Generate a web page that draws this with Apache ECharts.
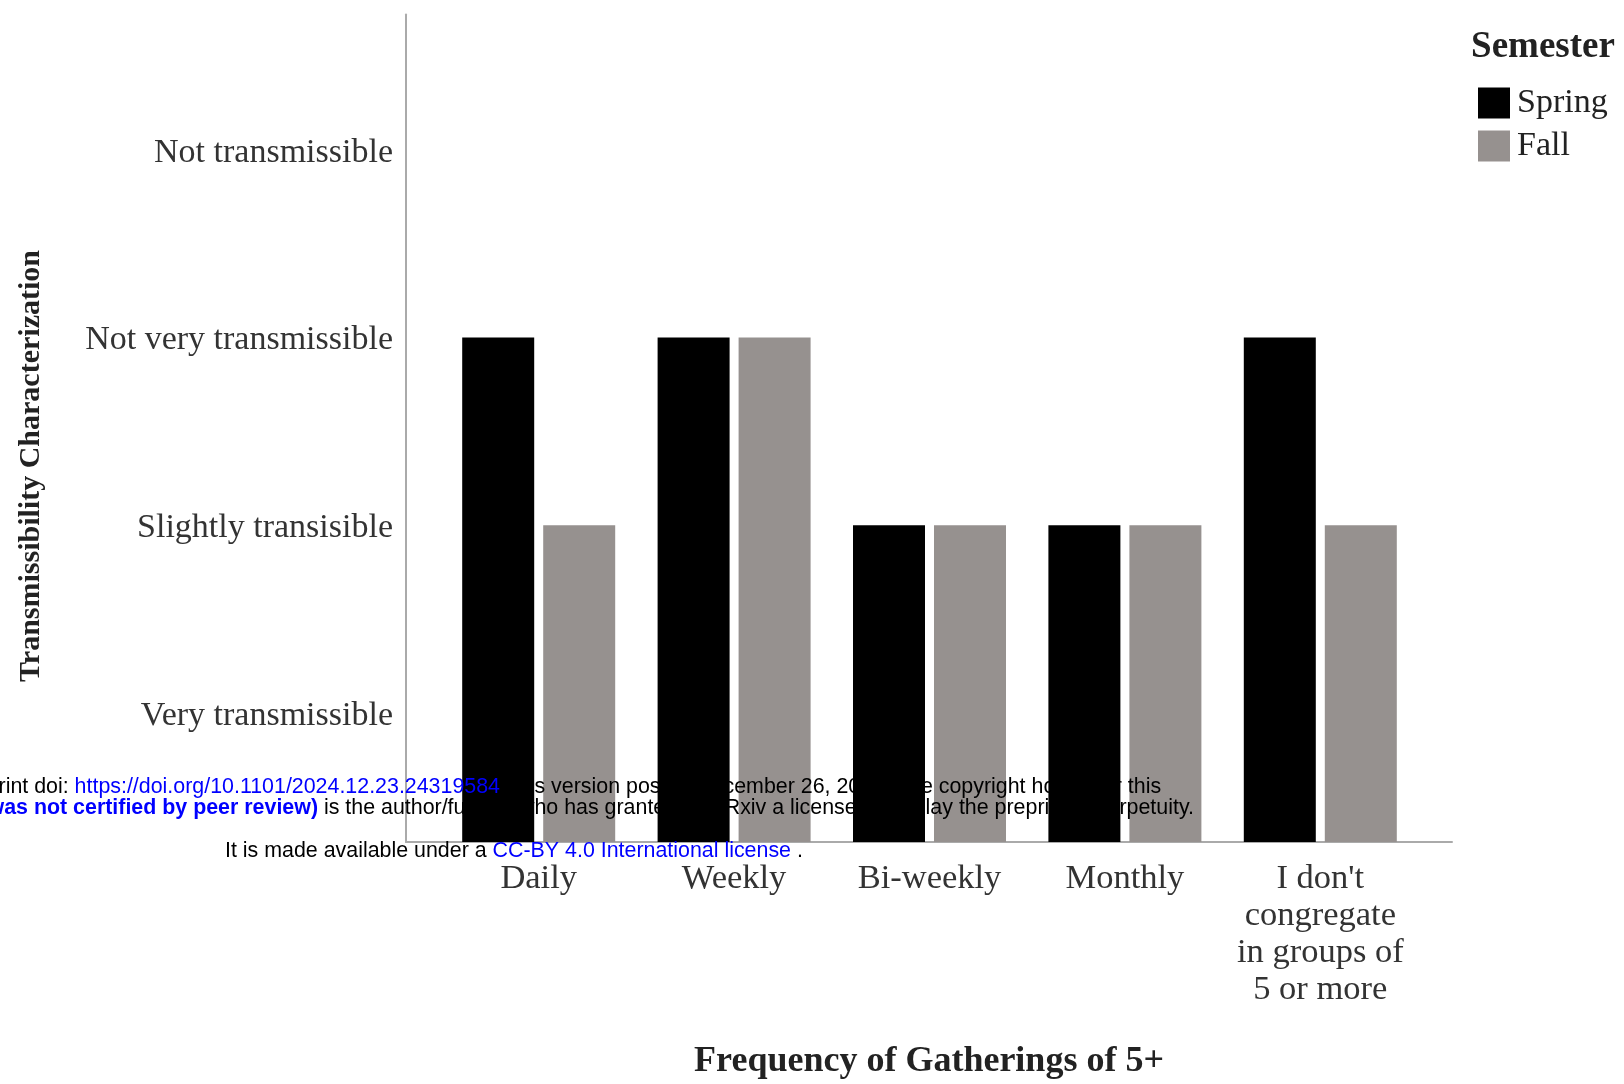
<!DOCTYPE html>
<html>
<head>
<meta charset="utf-8">
<script src="https://cdn.jsdelivr.net/npm/echarts@6/dist/echarts.min.js"></script>
<style>html,body{margin:0;padding:0;background:#fff;}#chart{width:1624px;height:1084px;}</style>
</head>
<body>
<div id="chart"></div>
<script>
const categories = ['Daily', 'Weekly', 'Bi-weekly', 'Monthly', "I don't\ncongregate\nin groups of\n5 or more"];
const levelLabels = {1: 'Very transmissible', 2: 'Slightly transisible', 3: 'Not very transmissible', 4: 'Not transmissible'};
const levelTicks = [1, 2, 3, 4];
const springValues = [3, 3, 2, 2, 3];
const fallValues = [2, 3, 2, 2, 2];

const SERIF = '"Liberation Serif", "Times New Roman", serif';
const SANS = '"Liberation Sans", Arial, sans-serif';
const YMIN = 0.313, YMAX = 4.72;
const WM = '21.4px ';

const chart = echarts.init(document.getElementById('chart'));
chart.setOption({
  backgroundColor: '#fff',
  animation: false,
  grid: [
    {left: 441, right: 206, top: 14.5, bottom: 242},
    {left: 406, right: 172, top: 14.5, bottom: 242}
  ],
  legend: {
    orient: 'vertical', left: 1473, top: 81, icon: 'rect',
    itemWidth: 32, itemHeight: 31, itemGap: 9,
    textStyle: {fontFamily: SERIF, fontSize: 34, color: '#222', padding: [0, 0, 0, 2]},
    data: ['Spring', 'Fall']
  },
  xAxis: [
    {
      type: 'category', gridIndex: 0, data: categories,
      axisLine: {show: false}, axisTick: {show: false},
      axisLabel: {fontFamily: SERIF, fontSize: 34.5, color: '#333', margin: 18, lineHeight: 37, interval: 0}
    },
    {
      type: 'value', gridIndex: 1, min: 0, max: 1,
      axisLine: {show: true, lineStyle: {color: '#aaa', width: 2}},
      axisTick: {show: false}, axisLabel: {show: false}, splitLine: {show: false}
    }
  ],
  yAxis: [
    {
      type: 'value', gridIndex: 0, min: YMIN, max: YMAX,
      axisLine: {show: false}, axisTick: {show: false}, axisLabel: {show: false}, splitLine: {show: false}
    },
    {
      type: 'value', gridIndex: 1, min: YMIN, max: YMAX,
      axisLine: {show: true, lineStyle: {color: '#aaa', width: 2}},
      axisTick: {show: false}, splitLine: {show: false},
      axisLabel: {
        customValues: levelTicks,
        fontFamily: SERIF, fontSize: 34, color: '#333', margin: 13,
        formatter: v => '{a|' + (levelLabels[Math.round(v)] || '') + '}',
        rich: {a: {fontFamily: SERIF, fontSize: 34, color: '#333', padding: [6, 0, 0, 0]}}
      }
    }
  ],
  series: [
    {name: 'Spring', type: 'bar', xAxisIndex: 0, yAxisIndex: 0, data: springValues,
     barWidth: 72, barGap: '12.5%', itemStyle: {color: '#000'}, z: 2},
    {name: 'Fall', type: 'bar', xAxisIndex: 0, yAxisIndex: 0, data: fallValues,
     barWidth: 72, barGap: '12.5%', itemStyle: {color: '#96918f'}, z: 2}
  ],
  graphic: [
    {type: 'text', x: 31, y: 466, rotation: Math.PI / 2, z: 10,
     style: {text: 'Transmissibility Characterization', font: 'bold 30px ' + SERIF, fill: '#222',
             textAlign: 'center', textVerticalAlign: 'middle'}},
    {type: 'text', x: 929, y: 1062, z: 10,
     style: {text: 'Frequency of Gatherings of 5+', font: 'bold 36px ' + SERIF, fill: '#222',
             textAlign: 'center', textVerticalAlign: 'middle'}},
    {type: 'text', x: 1543, y: 47, z: 10,
     style: {text: 'Semester', font: 'bold 37px ' + SERIF, fill: '#222',
             textAlign: 'center', textVerticalAlign: 'middle'}},
    // preprint stamp, line 1
    {type: 'text', x: 74.6, y: 787, z: 100,
     style: {text: 'medRxiv preprint doi: ', font: WM + SANS, fill: '#000',
             textAlign: 'right', textVerticalAlign: 'middle'}},
    {type: 'text', x: 74.6, y: 787, z: 100,
     style: {text: '{l|https://doi.org/10.1101/2024.12.23.24319584}; this version posted December 26, 2024. The copyright holder for this',
             font: WM + SANS, fill: '#000', textAlign: 'left', textVerticalAlign: 'middle',
             rich: {l: {fill: '#0000ff', font: WM + SANS}}}},
    // line 2
    {type: 'text', x: 318, y: 808, z: 100,
     style: {text: 'preprint {b|(which was not certified by peer review)}', font: WM + SANS, fill: '#000',
             textAlign: 'right', textVerticalAlign: 'middle',
             rich: {b: {fill: '#0000ff', font: 'bold ' + WM + SANS}}}},
    {type: 'text', x: 318, y: 808, z: 100,
     style: {text: ' is the author/funder, who has granted medRxiv a license to display the preprint in perpetuity.',
             font: WM + SANS, fill: '#000', textAlign: 'left', textVerticalAlign: 'middle'}},
    // line 3
    {type: 'text', x: 225, y: 851, z: 100,
     style: {text: 'It is made available under a {l|CC-BY 4.0 International license} .',
             font: WM + SANS, fill: '#000', textAlign: 'left', textVerticalAlign: 'middle',
             rich: {l: {fill: '#0000ff', font: WM + SANS}}}}
  ]
});
</script>
</body>
</html>
